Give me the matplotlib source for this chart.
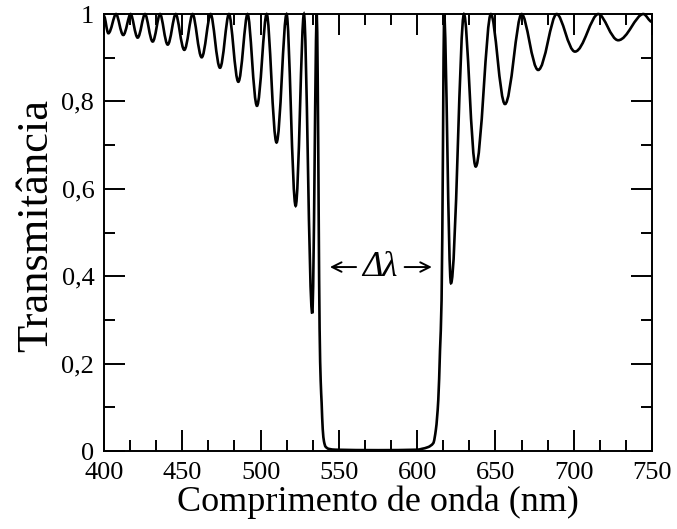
import matplotlib
matplotlib.use('Agg')
import matplotlib.pyplot as plt
from matplotlib.path import Path
from matplotlib.patches import PathPatch
from matplotlib.ticker import MultipleLocator

# transmittance spectrum, points (extrema + band edges)
wavelength = [400.0, 402.8, 407.7, 412.3, 417.0, 421.5, 426.2, 431.1, 435.8,
              440.7, 445.8, 451.3, 456.6, 462.4, 468.1, 474.1, 479.8, 485.8,
              491.7, 497.7, 503.9, 510.2, 516.6, 522.4, 527.7, 533.0, 535.9,
              536.5, 537.1, 537.7, 538.4, 539.0, 539.7, 540.5, 541.5, 543.5,
              548.0, 575.0, 600.0, 603.0, 607.0, 610.3, 612.0, 613.5, 614.6,
              615.6, 616.5, 617.2, 621.6, 629.9, 637.4, 647.1, 656.1, 666.7,
              677.3, 689.1, 700.8, 715.7, 728.4, 744.5, 750.0]
transmittance = [0.995, 0.956, 1.0, 0.952, 1.0, 0.946, 1.0, 0.937, 1.0,
                 0.930, 1.0, 0.918, 1.0, 0.901, 1.0, 0.877, 1.0, 0.845,
                 1.0, 0.790, 1.0, 0.706, 1.0, 0.561, 1.0, 0.315, 1.0,
                 0.85, 0.55, 0.28, 0.16, 0.11, 0.05, 0.022, 0.010, 0.005,
                 0.003, 0.002, 0.003, 0.005, 0.009, 0.018, 0.05, 0.117, 0.23,
                 0.345, 0.70, 1.0, 0.384, 1.0, 0.651, 1.0, 0.794, 1.0,
                 0.872, 1.0, 0.914, 1.0, 0.940, 1.0, 0.982]

yticks = [0, 0.2, 0.4, 0.6, 0.8, 1.0]
ytick_labels = ['0', '0,2', '0,4', '0,6', '0,8', '1']
xticks = [400, 450, 500, 550, 600, 650, 700, 750]

plt.rcParams['font.family'] = ['Liberation Serif', 'DejaVu Serif']

fig = plt.figure(figsize=(6.77, 5.29), dpi=100)
ax = fig.add_axes([0.1536, 0.1474, 0.8095, 0.8261])


def handles(x, y):
    # slope at each point: flat at extrema, harmonic mean of secants elsewhere
    n = len(x)
    m, kind = [], []
    for i in range(n):
        if i == 0 or i == n - 1:
            m.append(0.0)
            kind.append('end')
            continue
        d0 = (y[i] - y[i - 1]) / (x[i] - x[i - 1])
        d1 = (y[i + 1] - y[i]) / (x[i + 1] - x[i])
        if d0 * d1 <= 0:
            m.append(0.0)
            kind.append('peak' if y[i] >= y[i - 1] else 'min')
        else:
            m.append(2.0 / (1.0 / d0 + 1.0 / d1))
            kind.append('mid')
    return m, kind


m, kind = handles(wavelength, transmittance)
frac = {'peak': 0.31, 'min': 0.37, 'end': 0.33, 'mid': 1.0 / 3}
verts = [(wavelength[0], transmittance[0])]
codes = [Path.MOVETO]
for i in range(len(wavelength) - 1):
    x0, y0 = wavelength[i], transmittance[i]
    x1, y1 = wavelength[i + 1], transmittance[i + 1]
    dx = x1 - x0
    a = frac[kind[i]] * dx
    b = frac[kind[i + 1]] * dx
    verts += [(x0 + a, y0 + m[i] * a), (x1 - b, y1 - m[i + 1] * b), (x1, y1)]
    codes += [Path.CURVE4] * 3

ax.add_patch(PathPatch(Path(verts, codes), facecolor='none',
                       edgecolor='black', lw=1.9, clip_on=False))

# delta lambda marker
ax.text(576, 0.42, 'Δλ', fontsize=25, fontstyle='italic',
        ha='center', va='center')
arrow = dict(arrowstyle='->', lw=1.4, color='black', mutation_scale=17,
             shrinkA=0, shrinkB=0)
ax.annotate('', xy=(544.3, 0.421), xytext=(561, 0.421), arrowprops=arrow)
ax.annotate('', xy=(609.4, 0.421), xytext=(592, 0.421), arrowprops=arrow)

ax.set_xlim(400, 750)
ax.set_ylim(0, 1)
ax.set_xticks(xticks)
ax.xaxis.set_minor_locator(MultipleLocator(50 / 3))
ax.set_yticks(yticks)
ax.set_yticklabels(ytick_labels)
ax.yaxis.set_minor_locator(MultipleLocator(0.1))
ax.tick_params(which='both', direction='in', top=True, right=True,
               width=1.4, labelsize=19)
ax.tick_params(which='major', length=15)
ax.tick_params(axis='x', which='major', pad=8)
ax.tick_params(axis='y', which='major', pad=7)
ax.tick_params(which='minor', length=8)
for s in ax.spines.values():
    s.set_linewidth(1.4)

ax.set_xlabel('Comprimento de onda (nm)', fontsize=26, labelpad=1)
ax.set_ylabel('Transmitância', fontsize=32)
ax.yaxis.set_label_coords(-0.088, 0.517)

fig.savefig('out.png', dpi=100)
